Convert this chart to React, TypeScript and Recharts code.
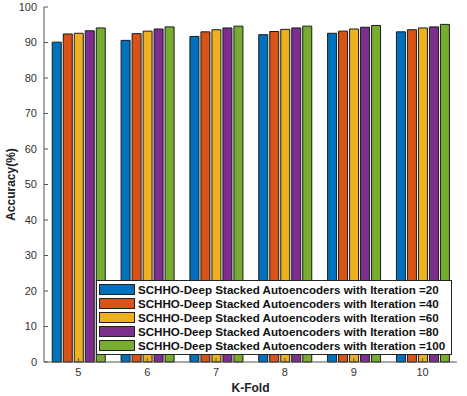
import { Bar, BarChart, Legend, XAxis, YAxis } from "recharts";

const folds = ["5", "6", "7", "8", "9", "10"];
const iter20 = [90.1, 90.6, 91.7, 92.2, 92.6, 93.0];
const iter40 = [92.4, 92.5, 93.0, 93.1, 93.2, 93.6];
const iter60 = [92.6, 93.2, 93.6, 93.7, 93.8, 94.1];
const iter80 = [93.3, 93.8, 94.1, 94.1, 94.3, 94.4];
const iter100 = [94.1, 94.4, 94.6, 94.6, 94.8, 95.1];
const yTicks = [0, 10, 20, 30, 40, 50, 60, 70, 80, 90, 100];

const seriesNames = [
  "SCHHO-Deep Stacked Autoencoders with Iteration =20",
  "SCHHO-Deep Stacked Autoencoders with Iteration =40",
  "SCHHO-Deep Stacked Autoencoders with Iteration =60",
  "SCHHO-Deep Stacked Autoencoders with Iteration =80",
  "SCHHO-Deep Stacked Autoencoders with Iteration =100",
];
const colors = ["#0072BD", "#D95319", "#EDB120", "#7E2F8E", "#77AC30"];

const data = folds.map((fold, i) => ({
  fold,
  s20: iter20[i],
  s40: iter40[i],
  s60: iter60[i],
  s80: iter80[i],
  s100: iter100[i],
}));
const keys = ["s20", "s40", "s60", "s80", "s100"];

const axisColor = "#555";
const font = "Liberation Sans, Arial, sans-serif";
const tickStyle = { fill: "#333", fontSize: 11, fontFamily: font };

// keep series order (recharts sorts legend items by name otherwise)
function LegendBox({ payload }: any) {
  const items = [...(payload || [])].sort(
    (a: any, b: any) => seriesNames.indexOf(a.value) - seriesNames.indexOf(b.value)
  );
  return (
    <div
      style={{
        background: "#fff",
        border: "1px solid #222",
        padding: "1px 2px 2px 2px",
        fontFamily: font,
        fontWeight: "bold",
        fontSize: 11.6,
        color: "#111",
        boxSizing: "border-box",
      }}
    >
      {items.map((p: any) => (
        <div key={p.value} style={{ display: "flex", alignItems: "center", height: 14 }}>
          <span
            style={{
              display: "inline-block",
              flexShrink: 0,
              width: 34,
              height: 9,
              background: p.color,
              border: "1px solid #222",
              marginRight: 3,
            }}
          />
          <span style={{ whiteSpace: "nowrap" }}>{p.value}</span>
        </div>
      ))}
    </div>
  );
}

export default function App() {
  return (
    <div style={{ position: "absolute", left: 0, top: 0, background: "#fff" }}>
      <BarChart
        width={467}
        height={396}
        data={data}
        margin={{ top: 7, right: 10, bottom: 0, left: 0 }}
        barCategoryGap="12%"
        barGap={2}
      >
        <XAxis
          dataKey="fold"
          stroke={axisColor}
          tick={tickStyle}
          tickSize={-4}
          tickMargin={10}
          height={34}
          label={{
            value: "K-Fold",
            position: "insideBottom",
            offset: 4,
            fill: "#222",
            fontSize: 12,
            fontWeight: "bold",
            fontFamily: font,
          }}
        />
        <XAxis
          xAxisId="top"
          dataKey="fold"
          orientation="top"
          stroke={axisColor}
          height={0}
          tickSize={-4}
          tick={() => <g />}
        />
        <YAxis
          domain={[0, 100]}
          ticks={yTicks}
          stroke={axisColor}
          tick={tickStyle}
          tickSize={-4}
          tickMargin={11}
          width={44}
          interval={0}
          label={{
            value: "Accuracy(%)",
            angle: -90,
            position: "center",
            dx: -11,
            fill: "#222",
            fontSize: 12,
            fontWeight: "bold",
            fontFamily: font,
          }}
        />
        <YAxis
          yAxisId="right"
          orientation="right"
          domain={[0, 100]}
          ticks={yTicks}
          stroke={axisColor}
          width={0}
          tickSize={-4}
          interval={0}
          tick={() => <g />}
        />
        <Legend
          layout="vertical"
          align="center"
          verticalAlign="middle"
          content={<LegendBox />}
          wrapperStyle={{ left: 96, top: 280, width: 356, height: "auto" }}
        />
        {keys.map((k, i) => (
          <Bar
            key={k}
            dataKey={k}
            name={seriesNames[i]}
            fill={colors[i]}
            stroke="#1a1a1a"
            strokeWidth={1}
            isAnimationActive={false}
          />
        ))}
      </BarChart>
    </div>
  );
}
